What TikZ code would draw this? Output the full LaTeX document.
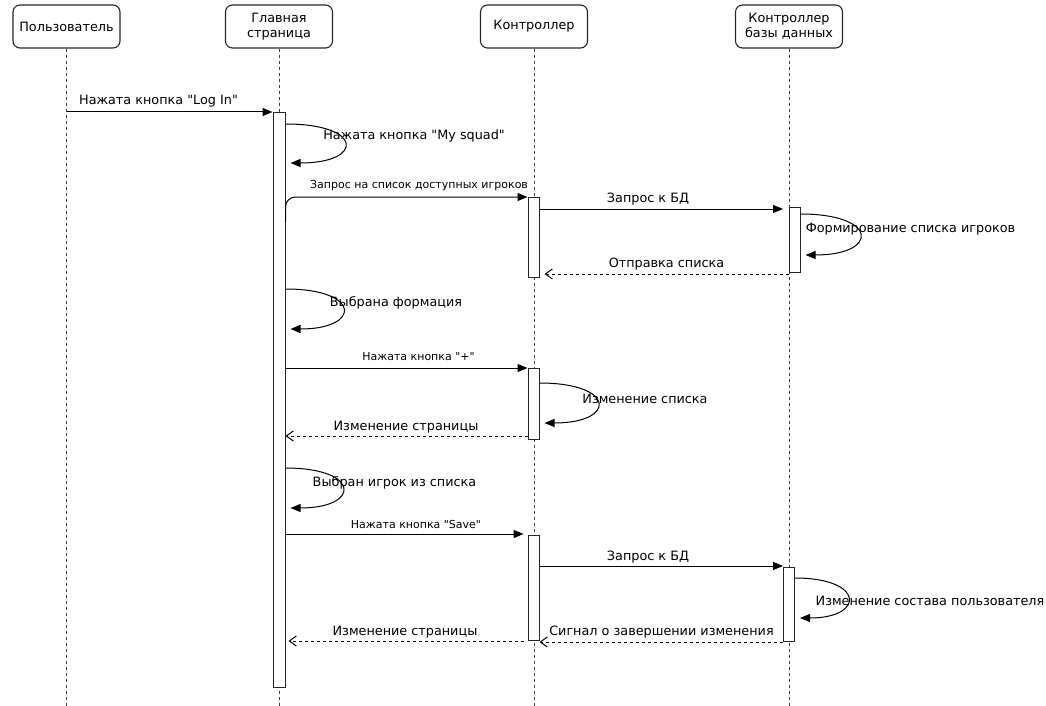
\documentclass[tikz,border=0pt]{standalone}
\usepackage{fontspec}
\setmainfont{DejaVu Sans}[Ligatures=TeXOff]
\usetikzlibrary{arrows.meta,calc}

\begin{document}
\begin{tikzpicture}[x=1pt,y=-1pt,
  font=\fontsize{12.8}{15}\selectfont,
  head/.style={draw=black!85, rounded corners=7pt, line width=1.1pt,
    minimum width=107pt, minimum height=43pt, align=center, inner sep=2pt},
  life/.style={draw=black!75, line width=0.9pt, dash pattern=on 3pt off 3pt},
  act/.style={draw=black!85, fill=white, line width=1pt, minimum width=11pt, inner sep=0pt},
  msg/.style={draw, line width=1pt, -{Triangle[length=10pt,width=8pt]}},
  ret/.style={draw, line width=1pt, dash pattern=on 3pt off 3pt,
    -{Straight Barb[length=7pt,width=10pt]}},
  lbl/.style={inner sep=0pt},
  small/.style={lbl, font=\fontsize{11}{13}\selectfont},
]
\useasboundingbox (0,0) rectangle (1046,706);

% lifeline heads
\node[head] (user) at (66.5,26.5) {Пользователь};
\node[head] (page) at (279,26.5) {Главная\\страница};
\node[head] (ctrl) at (534,26.5) {Контроллер};
\node[head] (db)   at (789,26.5) {Контроллер\\базы данных};

% lifelines
\coordinate (bottom) at (0,706);
\foreach \h in {user,page,ctrl,db}
  \draw[life] (\h.south) -- (\h.south |- bottom);

% activation bars
\node[act, minimum width=12pt, minimum height=575pt, anchor=north] (pa) at (279,112) {};
\node[act, minimum height=80pt, anchor=north] (c1) at (533.5,197) {};
\node[act, minimum height=65pt, anchor=north] (d1) at (794.5,207) {};
\node[act, minimum height=71pt, anchor=north] (c2) at (533.5,368) {};
\node[act, minimum height=105pt, anchor=north] (c3) at (533.5,535) {};
\node[act, minimum height=74pt, anchor=north] (d2) at (789,567) {};

% messages
\draw[msg] (user.south |- pa.north) -- (pa.north west);
\node[lbl] (t1) at (158.5,101) {Нажата кнопка "Log In"};

\draw[msg] ($(pa.east |- 0,124)$) .. controls (364,124) and (364,163) .. ($(pa.east |- 0,163)+(5,0)$);
\node[lbl] (t2) at (414,136) {Нажата кнопка "My squad"};

\draw[msg, rounded corners=10pt] (pa.east |- 0,222) -- (pa.east |- c1.north) -- (c1.north west);
\node[small] (t3) at (419,186) {Запрос на список доступных игроков};

\coordinate (d1in) at (783,209);
\draw[msg] (c1.east |- d1in) -- (d1in);
\node[lbl] (t4) at (648,199) {Запрос к БД};

\draw[msg] ($(d1.east |- 0,214)$) .. controls (879,214) and (879,255) .. ($(d1.east |- 0,255)+(5,0)$);
\node[lbl] (t5) at (910.5,229) {Формирование списка игроков};

\draw[ret] (d1.west |- 0,274) -- ($(c1.east |- 0,274)+(5,0)$);
\node[lbl] (t6) at (666.5,264) {Отправка списка};

\draw[msg] ($(pa.east |- 0,289)$) .. controls (361.5,289) and (361.5,329) .. ($(pa.east |- 0,329)+(5,0)$);
\node[lbl] (t7) at (396,303) {Выбрана формация};

\draw[msg] (pa.east |- c2.north) -- (c2.north west);
\node[small] (t8) at (418.5,357) {Нажата кнопка "+"};

\draw[msg] ($(c2.east |- 0,383)$) .. controls (616.5,383) and (616.5,423) .. ($(c2.east |- 0,423)+(5,0)$);
\node[lbl] (t9) at (645,399) {Изменение списка};

\draw[ret] (c2.west |- 0,436) -- (pa.east |- 0,436);
\node[lbl] (t10) at (406,427) {Изменение страницы};

\draw[msg] ($(pa.east |- 0,468)$) .. controls (361,468) and (361,508) .. ($(pa.east |- 0,508)+(5,0)$);
\node[lbl] (t11) at (394.5,483) {Выбран игрок из списка};

\coordinate (c3in) at (523.5,534);
\draw[msg] (pa.east |- c3in) -- (c3in);
\node[small] (t12) at (416,524) {Нажата кнопка "Save"};

\coordinate (d2in) at (783,566);
\draw[msg] (c3.east |- d2in) -- (d2in);
\node[lbl] (t13) at (648,557) {Запрос к БД};

\draw[msg] ($(d2.east |- 0,578)$) .. controls (865,578) and (865,618) .. ($(d2.east |- 0,618)+(5,0)$);
\node[lbl] (t14) at (930,601) {Изменение состава пользователя};

\draw[ret] (d2.south west) -- (c3.east |- d2.south);
\node[lbl] (t15) at (661.5,632) {Сигнал о завершении изменения};

\coordinate (c3out) at (524,641);
\draw[ret] (c3out) -- ($(pa.east |- c3out)+(3,0)$);
\node[lbl] (t16) at (405,632) {Изменение страницы};
\end{tikzpicture}
\end{document}
